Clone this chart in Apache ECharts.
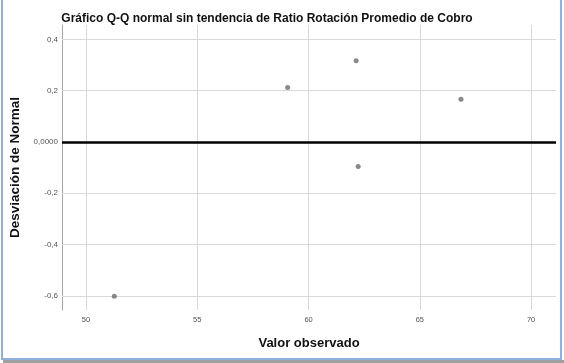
<!DOCTYPE html>
<html>
<head>
<meta charset="utf-8">
<script src="https://cdn.jsdelivr.net/npm/echarts@6/dist/echarts.min.js"></script>
<style>
  html, body { margin: 0; padding: 0; background: #fff; }
  #chart { width: 564px; height: 363px; }
</style>
</head>
<body>
<div id="chart"></div>
<script>
// Observed values and their deviation from the normal expectation
const observedValues = [51.27, 59.06, 62.14, 62.23, 66.85];
const deviations = [-0.601, 0.212, 0.317, -0.096, 0.167];

const xTicks = [50, 55, 60, 65, 70];
const yTicks = [-0.6, -0.4, -0.2, 0, 0.2, 0.4];

const titleText = 'Gráfico Q-Q normal sin tendencia de Ratio Rotación Promedio de Cobro';
const xAxisTitle = 'Valor observado';
const yAxisTitle = 'Desviación de Normal';

function formatY(v) {
  const r = Math.round(v * 10) / 10;
  if (Math.abs(r) < 1e-9) return '0,0000';
  return r.toFixed(1).replace('.', ',');
}

const points = observedValues.map((x, i) => [x, deviations[i]]);

// Grid lines only at the labelled ticks, not at the axis extents
const gridLines = xTicks.map(v => ({ xAxis: v }))
  .concat(yTicks.filter(v => v !== 0).map(v => ({ yAxis: v })));

const chart = echarts.init(document.getElementById('chart'), null, { renderer: 'canvas' });

chart.setOption({
  backgroundColor: '#ffffff',
  animation: false,
  textStyle: { fontFamily: 'Liberation Sans, Arial, sans-serif' },
  title: {
    text: titleText,
    left: 262,
    top: 8,
    textAlign: 'center',
    textStyle: { fontSize: 12, fontWeight: 'bold', color: '#111', fontFamily: 'Liberation Sans, Arial, sans-serif' }
  },
  grid: { left: 62, right: 8, top: 25, bottom: 53, containLabel: false },
  xAxis: {
    type: 'value',
    min: 48.92,
    max: 71.12,
    name: xAxisTitle,
    nameLocation: 'middle',
    nameGap: 27,
    nameTextStyle: { fontSize: 13, fontWeight: 'bold', color: '#111' },
    axisLine: { show: true, lineStyle: { color: '#a6a6a6', width: 1 } },
    axisTick: { show: false },
    splitLine: { show: false },
    axisLabel: {
      fontSize: 7.5, color: '#555', margin: 6,
      customValues: xTicks,
      formatter: v => String(Math.round(v))
    }
  },
  yAxis: {
    type: 'value',
    min: -0.655,
    max: 0.456,
    name: yAxisTitle,
    nameLocation: 'middle',
    nameGap: 34,
    nameTextStyle: { fontSize: 13.5, fontWeight: 'bold', color: '#111' },
    axisLine: { show: true, lineStyle: { color: '#a6a6a6', width: 1 } },
    axisTick: { show: false },
    splitLine: { show: false },
    axisLabel: {
      fontSize: 8, color: '#555', margin: 4,
      customValues: yTicks,
      formatter: formatY
    }
  },
  series: [
    {
      type: 'scatter',
      data: [],
      z: 1,
      markLine: {
        silent: true,
        symbol: 'none',
        label: { show: false },
        lineStyle: { color: '#d9d9d9', width: 1, type: 'solid' },
        data: gridLines
      }
    },
    {
      type: 'scatter',
      data: points,
      symbol: 'circle',
      symbolSize: 5,
      itemStyle: { color: '#6b6b6b' },
      z: 5,
      markLine: {
        silent: true,
        symbol: 'none',
        label: { show: false },
        lineStyle: { color: '#000', width: 2.5, type: 'solid' },
        data: [{ yAxis: 0 }]
      }
    }
  ],
  graphic: [
    { type: 'rect', shape: { x: 1, y: 0, width: 2, height: 360 }, style: { fill: '#8fb0dc' }, silent: true },
    { type: 'rect', shape: { x: 560, y: 0, width: 2, height: 360 }, style: { fill: '#8fb0dc' }, silent: true },
    { type: 'rect', shape: { x: 1, y: 358, width: 561, height: 2 }, style: { fill: '#8fb0dc' }, silent: true },
    { type: 'rect', shape: { x: 3, y: 360, width: 561, height: 3 }, style: { fill: '#a0a0a0' }, silent: true }
  ]
});
</script>
</body>
</html>
